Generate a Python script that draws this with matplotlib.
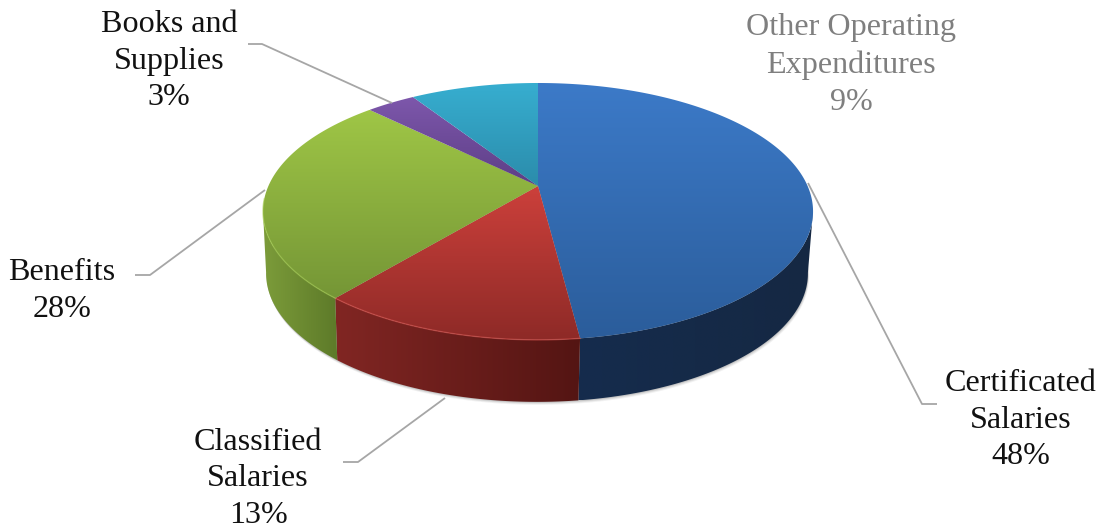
import numpy as np
import matplotlib
matplotlib.use("Agg")
import matplotlib.pyplot as plt
from matplotlib.patches import Polygon
from matplotlib.colors import LinearSegmentedColormap

categories = ["Certificated\nSalaries", "Classified\nSalaries", "Benefits", "Books and\nSupplies", "Other Operating\nExpenditures"]
shares = [48.0, 13.0, 26.4, 3.5, 9.1]
pct_labels = ["48%", "13%", "28%", "3%", "9%"]
top_colors = [("#3c7ac8", "#2b5d9b"), ("#cc403b", "#8e2a27"), ("#9fc646", "#759636"), ("#7d57ab", "#5d3e86"), ("#37aed0", "#2b8cab")]
wall_colors = [("#152c4d", "#152843"), ("#812623", "#541513"), ("#7c9c3a", "#5d7a29"), ("#5d3e86", "#5d3e86"), ("#2b8cab", "#2b8cab")]
rim_colors = [None, "#d9534e", "#a3cc4e", None, None]
label_xy = [(1021, 420), (258, 479), (62, 291), (169, 61), (851, 65)]
label_color = ["#111111", "#111111", "#111111", "#111111", "#7f7f7f"]
leaders = [[(808, 183), (922, 404), (937, 404)], [(445, 398), (358, 462), (343, 462)],
           [(265, 190), (150, 275), (135, 275)], [(392, 103), (262, 44), (248, 44)]]

plt.rcParams["font.family"] = ["Liberation Serif", "DejaVu Serif"]
fig = plt.figure(figsize=(11.04, 5.32), dpi=100)
ax = fig.add_axes([0, 0, 1, 1])
ax.set_xlim(0, 1104)
ax.set_ylim(532, 0)
ax.axis("off")

K, A, B = 0.198, 123.4, 269.6
CX, CY = 538, 186
DEPTH, SHRINK, SHIFT = 62, 0.985, -1


def rim(theta, bottom=False):
    u, v = np.sin(theta), np.cos(theta)
    d = 1 + K * v
    x, y = B * u / d, -A * v / d
    if bottom:
        return CX + SHIFT + SHRINK * x, CY + y + DEPTH
    return CX + x, CY + y


def fill(poly, c0, c1, vertical):
    cmap = LinearSegmentedColormap.from_list("g", [c0, c1])
    xs, ys = poly[:, 0], poly[:, 1]
    ext = (xs.min(), xs.max(), ys.max(), ys.min())
    grad = np.linspace(0, 1, 128)
    img = grad[:, None] if vertical else grad[None, :]
    im = ax.imshow(img, cmap=cmap, extent=ext, aspect="auto", origin="upper", zorder=2, interpolation="bilinear")
    patch = Polygon(poly, closed=True, transform=ax.transData, fc="none", ec="none")
    ax.add_patch(patch)
    im.set_clip_path(patch)


edges = np.cumsum([0] + shares) / sum(shares) * 2 * np.pi

# soft shadow under the wall
tt = np.linspace(0, 2 * np.pi, 400)
sx, sy = rim(tt, True)
for off, a in [(3, 0.08), (2, 0.12), (1, 0.18)]:
    ax.fill(sx + off * 0.4, sy + off, fc="#555555", alpha=a, ec="none", zorder=1)

for i in range(len(shares)):
    t = np.linspace(edges[i], edges[i + 1], 300)
    t_front = t[(np.cos(t) < -0.19)]
    if t_front.size > 1:
        x1, y1 = rim(t_front)
        x2, y2 = rim(t_front[::-1], True)
        poly = np.column_stack([np.r_[x1, x2], np.r_[y1, y2]])
        fill(poly, wall_colors[i][0], wall_colors[i][1], False)
for i in range(len(shares)):
    t = np.linspace(edges[i], edges[i + 1], 300)
    x1, y1 = rim(t)
    poly = np.column_stack([np.r_[CX, x1], np.r_[CY, y1]])
    fill(poly, top_colors[i][0], top_colors[i][1], True)
    if rim_colors[i]:
        front = np.cos(t) < -0.1
        ax.plot(x1[front], y1[front], color=rim_colors[i], lw=1.0, alpha=0.55, zorder=2.5)

ax.set_xlim(0, 1104)
ax.set_ylim(532, 0)

for pts in leaders:
    xs, ys = zip(*pts)
    ax.plot(xs, ys, color="#a6a6a6", lw=1.3, zorder=3, solid_capstyle="butt")

for name, pct, (x, y), c in zip(categories, pct_labels, label_xy, label_color):
    ax.text(x, y, f"{name}\n{pct}", ha="center", va="center", fontsize=23.1, color=c, linespacing=1.35, zorder=4)

fig.savefig("out.png", dpi=100)
